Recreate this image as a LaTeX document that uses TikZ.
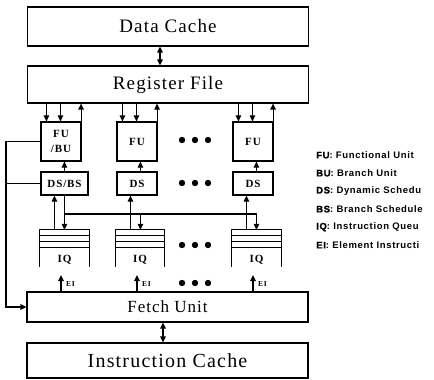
\documentclass[tikz,border=0pt]{standalone}
\usepackage{fontspec}
\setmainfont{Liberation Serif}
\newfontfamily\bigf[LetterSpace=6]{Liberation Serif}
\newfontfamily\boxf[LetterSpace=8]{Liberation Serif}
\newfontfamily\legf[LetterSpace=7]{Liberation Sans}
\newfontfamily\legab[LetterSpace=7,FakeBold=1.5]{Liberation Sans}
\usetikzlibrary{arrows.meta,calc}
\begin{document}
\begin{tikzpicture}[x=1pt,y=-1pt,
  ln/.style={line width=1.1pt},
  big/.style={draw,ln,inner sep=0pt,minimum width=281pt},
  sbox/.style={draw,ln,inner sep=0pt,minimum height=23pt,font=\boxf\bfseries\fontsize{11}{12}\selectfont},
  fubox/.style={draw,ln,inner sep=0pt,minimum width=40pt,minimum height=39pt,align=center,font=\boxf\bfseries\fontsize{11}{15}\selectfont},
  iqbox/.style={inner sep=0pt,minimum height=37pt},
  iqtxt/.style={inner sep=0pt,font=\boxf\bfseries\fontsize{11}{12}\selectfont},
  eitxt/.style={inner sep=0pt,anchor=west,font=\boxf\bfseries\fontsize{7.5}{8}\selectfont},
  legtxt/.style={inner sep=0pt,anchor=west,font=\legf\bfseries\fontsize{9.5}{11}\selectfont},
  arr/.style={ln,-{Triangle[length=6pt,width=5.5pt]}},
  dbl/.style={ln,{Triangle[length=6pt,width=5.5pt]}-{Triangle[length=6pt,width=5.5pt]}}
]
\useasboundingbox (0,0) rectangle (434,380);
% big boxes
\node[big,minimum height=39pt,font=\bigf\fontsize{19}{22}\selectfont] (dc) at (168,26.5) {Data Cache};
\node[big,minimum height=37pt,font=\bigf\fontsize{19}{22}\selectfont] (rf) at (168,84.5) {Register File};
\node[big,minimum height=30pt,font=\bigf\fontsize{17}{20}\selectfont] (fetch) at (167.5,307) {Fetch Unit};
\node[big,minimum height=35pt,font=\bigf\fontsize{20}{23}\selectfont] (ic) at (167.5,360.5) {Instruction Cache};
\draw[dbl] ([xshift=-8pt]dc.south) -- ([xshift=-8pt]rf.north);
\draw[dbl] ([xshift=-4.5pt]fetch.south) -- ([xshift=-4.5pt]ic.north);
% functional units
\node[fubox] (fu1) at (61,141.5) {FU\\/BU};
\node[fubox] (fu2) at (137,141.5) {FU};
\node[fubox] (fu3) at (253,141.5) {FU};
% schedulers
\node[sbox,minimum width=47pt] (ds1) at (64.5,183.5) {DS/BS};
\node[sbox,minimum width=40pt] (ds2) at (137,183.5) {DS};
\node[sbox,minimum width=40pt] (ds3) at (253,183.5) {DS};
% instruction queues
\node[iqbox,minimum width=49pt] (iq1) at (64.5,248.5) {};
\node[iqbox,minimum width=48pt] (iq2) at (140,248.5) {};
\node[iqbox,minimum width=49pt] (iq3) at (256.5,248.5) {};
\foreach \i in {1,2,3}{
  \draw[ln] (iq\i.south west) -- (iq\i.north west) -- (iq\i.north east) -- (iq\i.south east);
  \foreach \s in {6,12,18}{
    \draw[ln] ([yshift=-\s pt]iq\i.north west) -- ([yshift=-\s pt]iq\i.north east);
  }
  \node[iqtxt] (iqt\i) at ([yshift=7pt]iq\i.south) {IQ};
  % register file <-> FU
  \coordinate (a\i) at ([xshift=6pt]fu\i.north west);
  \coordinate (b\i) at ([xshift=20pt]fu\i.north west);
  \coordinate (c\i) at ([xshift=-0.5pt]fu\i.north east);
  \draw[arr] (rf.south -| a\i) -- (a\i);
  \draw[arr] (rf.south -| b\i) -- (b\i);
  \draw[arr] (c\i) -- (rf.south -| c\i);
  % DS -> FU
  \coordinate (d\i) at ([xshift=24pt]ds\i.north west);
  \draw[arr] (d\i) -- (fu\i.south -| d\i);
  % IQ -> DS
  \coordinate (e\i) at ([xshift=14pt]ds\i.south west);
  \draw[arr] (iq\i.north -| e\i) -- (e\i);
  \coordinate (f\i) at ([xshift=24pt]ds\i.south west);
}
% broadcast bus from DS/BS
\coordinate (busy) at (0,214);
\draw[arr] (f1) -- (iq1.north -| f1);
\draw[arr] (f1 |- busy) -| (iq3.north -| f3);
\draw[arr] (f2 |- busy) -- (iq2.north -| f2);
% EI arrows
\coordinate (h1) at (61,275);
\coordinate (h2) at (137,275);
\coordinate (h3) at (253,275);
\foreach \i in {1,2,3}{
  \draw[arr] (fetch.north -| h\i) -- (h\i);
  \node[eitxt] (ei\i) at ([xshift=5pt,yshift=-9pt]h\i) {EI};
}
% feedback to fetch unit
\coordinate (fb) at (6,0);
\draw[arr] (fu1.west) -| (fb |- fetch.west) -- (fetch.west);
\draw[ln] (ds1.west) -- (ds1.west -| fb);
% ellipsis dots
\foreach \y in {140,183,245,283}{
  \foreach \x in {182,195,208}{
    \fill (\x,\y) circle (3.2pt);
  }
}
% legend
\node[legtxt] (l1) at (316,155) {{\legab FU}: Functional Unit};
\node[legtxt] (l2) at (316,173) {{\legab BU}: Branch Unit};
\node[legtxt] (l3) at (316,191) {{\legab DS}: Dynamic Schedu};
\node[legtxt] (l4) at (316,209) {{\legab BS}: Branch Schedule};
\node[legtxt] (l5) at (316,227) {{\legab IQ}: Instruction Queu};
\node[legtxt] (l6) at (316,245) {{\legab EI}: Element Instructi};
\end{tikzpicture}
\end{document}
